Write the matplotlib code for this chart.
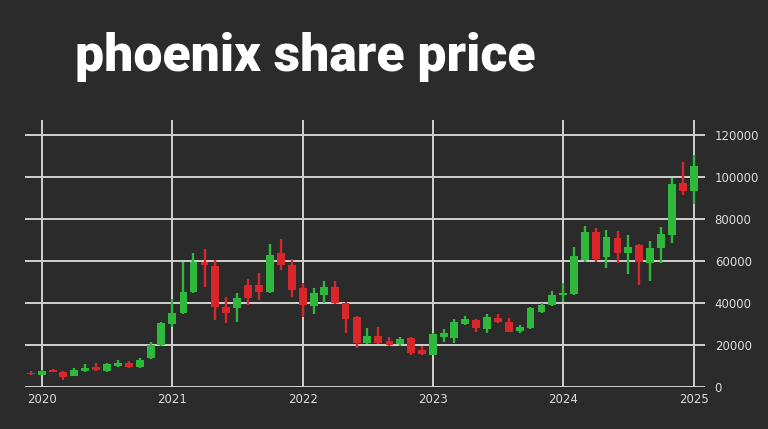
import numpy as np
import pandas as pd
import matplotlib
matplotlib.use("Agg")
import matplotlib.pyplot as plt
import matplotlib.dates as mdates

# monthly candles, Dec 2019 .. Jan 2025
months = pd.date_range("2019-12-01", "2025-01-01", freq="MS")
opens = [6800, 5800, 8000, 7000, 5300, 7500, 9500, 7500, 10000, 11500, 9500, 14000, 20000,
         30000, 35000, 45000, 59500, 57600, 38000, 37500, 48500, 48500, 45200, 63800, 58000,
         47000, 38600, 43800, 47600, 40000, 33300, 21000, 24300, 22000, 20500, 23300, 17600,
         15200, 23800, 23300, 30000, 31900, 27600, 32900, 31000, 26700, 28100, 35700, 39000,
         43800, 44300, 60500, 73800, 61900, 71000, 63800, 67600, 59000, 66200, 72400, 97100,
         93300]
highs = [7500, 8200, 8500, 7800, 9000, 11000, 11500, 11500, 13000, 12500, 14000, 21500, 31000,
         42000, 59500, 63800, 65700, 60500, 43000, 44800, 51400, 54300, 68000, 70500, 61000,
         49500, 47000, 50500, 50500, 40500, 33800, 28100, 28600, 23800, 24000, 24000, 19500,
         25500, 27600, 32400, 33800, 32400, 34800, 34800, 32900, 29500, 38100, 40000, 45700,
         49500, 66700, 76700, 75700, 74800, 74300, 72400, 68100, 69500, 76200, 99500, 107100,
         110500]
lows = [5500, 5500, 7000, 3500, 5000, 7000, 7500, 7200, 9500, 9000, 9200, 13500, 19500,
        28500, 34500, 44500, 47600, 32000, 30500, 31000, 39000, 41400, 44800, 55700, 43000,
        33300, 34700, 40000, 39500, 25700, 18600, 20500, 20500, 19500, 19500, 15200, 15200,
        15000, 21400, 21000, 29500, 26200, 25700, 30500, 26000, 25700, 27600, 35200, 38500,
        40500, 43800, 59500, 59500, 56700, 59000, 53800, 48600, 50500, 59000, 68600, 91400,
        87100]
closes = [6000, 7500, 7200, 4800, 8000, 9000, 8000, 11000, 11500, 9500, 12800, 20000, 30500,
          35200, 45000, 59500, 58000, 38000, 35000, 42500, 42500, 45200, 62800, 58000, 46200,
          39000, 44800, 47600, 40000, 32400, 21000, 24300, 21000, 20000, 23000, 16200, 15700,
          25200, 25700, 31000, 32400, 28100, 33300, 31000, 26200, 28600, 37600, 39000, 43800,
          44800, 62400, 73800, 61000, 71400, 63800, 66700, 59500, 66200, 72900, 96700, 93300,
          105200]
year_ticks = ["2020", "2021", "2022", "2023", "2024", "2025"]
y_ticks = [0, 20000, 40000, 60000, 80000, 100000, 120000]

bg = "#2b2b2b"
green = "#2eb83c"
red = "#d9262a"

o = np.array(opens); c = np.array(closes)
h = np.array(highs); l = np.array(lows)
up = c >= o
colors = np.where(up, green, red)

fig = plt.figure(figsize=(7.68, 4.29), dpi=100, facecolor=bg)
ax = fig.add_axes([25/768, 1-387/429, (705-25)/768, (387-120)/429])
ax.set_facecolor(bg)

x = mdates.date2num(months)
ax.vlines(x, l, h, colors=colors, linewidth=1.7, zorder=3)
body_bottom = np.minimum(o, c)
body_h = np.maximum(np.abs(c - o), 700)
ax.bar(x, body_h, bottom=body_bottom, width=22, color=colors, zorder=4)

ax.set_xlim(mdates.date2num(pd.Timestamp("2019-11-15")), mdates.date2num(pd.Timestamp("2025-02-01")))
ax.set_ylim(0, 127000)

ax.set_xticks([mdates.date2num(pd.Timestamp(f"{t}-01-01")) for t in year_ticks])
ax.set_xticklabels(year_ticks)
ax.yaxis.tick_right()
ax.set_yticks(y_ticks)
ax.set_yticklabels([str(v) for v in y_ticks])
ax.tick_params(axis="both", length=0, colors="#dcdcdc", labelsize=8.5)
ax.tick_params(axis="y", pad=7)
ax.tick_params(axis="x", pad=4)

ax.grid(True, color="#d0d0d0", linewidth=1.4, zorder=1)
ax.set_axisbelow(True)
for s in ax.spines.values():
    s.set_visible(False)

title = fig.text(75/768, 1-71/429, "phoenix share price", color="white", fontsize=40,
                 fontweight="black", family=["Roboto", "DejaVu Sans"], va="baseline")
# shrink the title so it spans about the same width as in the reference
fig.canvas.draw()
w = title.get_window_extent().width
title.set_fontsize(40 * 460 / w)

fig.savefig("out.png", dpi=100, facecolor=bg)
